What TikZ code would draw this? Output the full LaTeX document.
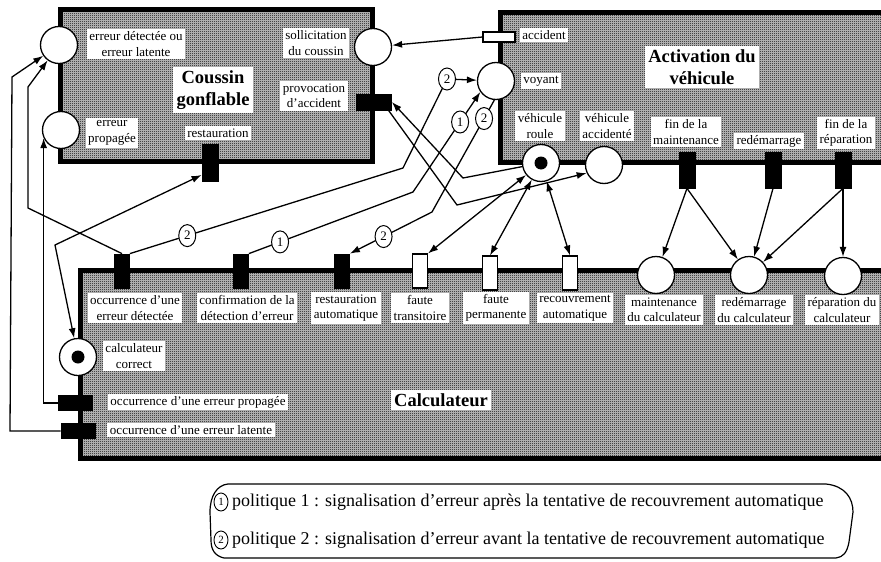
\documentclass[tikz,border=0pt]{standalone}
\usepackage{fontspec}
\setmainfont{Liberation Serif}
\usetikzlibrary{arrows.meta,shapes.geometric,patterns}

% fine checkerboard used as the halftone of the three modules
\pgfdeclarepatternformonly{halftone}{\pgfpointorigin}{\pgfqpoint{2pt}{2pt}}{\pgfqpoint{2pt}{2pt}}{%
  \pgfpathrectangle{\pgfpointorigin}{\pgfqpoint{1pt}{1pt}}%
  \pgfpathrectangle{\pgfqpoint{1pt}{1pt}}{\pgfqpoint{1pt}{1pt}}%
  \pgfusepath{fill}}

\begin{document}
\begin{tikzpicture}[x=1pt, y=-1pt,
  module/.style={draw, line width=5pt, preaction={fill=black!22}, pattern=halftone, pattern color=black},
  pl/.style={circle, draw, line width=1.3pt, fill=white, minimum size=37pt, inner sep=0pt},
  tok/.style={circle, fill=black, minimum size=13pt, inner sep=0pt},
  tb/.style={rectangle, draw, line width=0.8pt, fill=black, inner sep=0pt},
  tw/.style={rectangle, draw, line width=1.1pt, fill=white, inner sep=0pt},
  vert/.style={minimum width=15pt, minimum height=34pt},
  horz/.style={minimum width=34pt, minimum height=15pt},
  lbl/.style={fill=white, inner sep=2.5pt, align=center, font=\fontsize{13}{15.5}\selectfont},
  ttl/.style={fill=white, inner sep=3.5pt, align=center, font=\fontsize{18.5}{22}\selectfont\bfseries},
  plain/.style={line width=1.3pt},
  flow/.style={line width=1.3pt, -{Latex[length=10pt,width=7pt]}},
  biflow/.style={line width=1.3pt, {Latex[length=10pt,width=7pt]}-{Latex[length=10pt,width=7pt]}},
  pol/.style={ellipse, draw, line width=1pt, fill=white, minimum width=17pt, minimum height=22pt, inner sep=0pt, font=\fontsize{13}{13}\selectfont},
  legnum/.style={ellipse, draw, line width=0.9pt, fill=white, minimum width=14pt, minimum height=18pt, inner sep=0pt, font=\fontsize{11}{11}\selectfont},
  legtxt/.style={inner sep=0pt, anchor=west, font=\fontsize{18}{20}\selectfont},
]
\useasboundingbox (0,0) rectangle (881,562);
\clip (0,0) rectangle (881,562);

% ---- modules ----
\path[module] (60.5,9.5) rectangle (372.5,161.5);
\path[module] (500,12.5) rectangle (900,162.5);
\path[module] (80,270) rectangle (900,458);

% ---- module titles ----
\node[ttl] (ttlCoussin) at (213,90) {Coussin\\gonflable};
\node[ttl] (ttlAct) at (702,67) {Activation du\\véhicule};
\node[ttl] (ttlCalc) at (441,400) {Calculateur};

% ---- labels ----
\node[lbl] (lDet) at (136,44) {erreur détectée ou\\erreur latente};
\node[lbl] (lProp) at (112,133) {erreur\\propagée};
\node[lbl] (lRest) at (218,133) {restauration};
\node[lbl] (lSoll) at (316,43) {sollicitation\\du coussin};
\node[lbl] (lProv) at (314,96) {provocation\\d'accident};
\node[lbl] (lAcc) at (544,35) {accident};
\node[lbl] (lVoy) at (541,81) {voyant};
\node[lbl] (lRoule) at (540,126) {véhicule\\roule};
\node[lbl] (lAccid) at (607,126) {véhicule\\accidenté};
\node[lbl] (lFinMaint) at (686,132) {fin de la\\maintenance};
\node[lbl] (lRedem) at (769,141) {redémarrage};
\node[lbl] (lFinRep) at (846,133) {fin de la\\réparation};
\node[lbl] (lOccDet) at (135,308) {occurrence d'une\\erreur détectée};
\node[lbl] (lConf) at (247,308) {confirmation de la\\détection d'erreur};
\node[lbl] (lRestAuto) at (346,308) {restauration\\automatique};
\node[lbl] (lTrans) at (420,308) {faute\\transitoire};
\node[lbl] (lPerm) at (496,308) {faute\\permanente};
\node[lbl] (lRecouv) at (575,308) {recouvrement\\automatique};
\node[lbl] (lMaint) at (664,310) {maintenance\\du calculateur};
\node[lbl] (lRedemC) at (754,310) {redémarrage\\du calculateur};
\node[lbl] (lRepar) at (842,310) {réparation du\\calculateur};
\node[lbl] (lCorrect) at (134,356) {calculateur\\correct};
\node[lbl] (lOccProp) at (198,402) {occurrence d'une erreur propagée};
\node[lbl] (lOccLat) at (191,430) {occurrence d'une erreur latente};

% ---- places ----
\node[pl] (pDet) at (59,45) {};
\node[pl] (pProp) at (61,130) {};
\node[pl] (pSoll) at (373,47) {};
\node[pl] (pVoy) at (496,81) {};
\node[pl] (pRoule) at (541,163) {};
\node[tok] (kRoule) at (pRoule) {};
\node[pl] (pAcc) at (604,165) {};
\node[pl] (pMaint) at (656,275) {};
\node[pl] (pRedem) at (749,275) {};
\node[pl] (pRepar) at (843,276) {};
\node[pl] (pCorrect) at (78,357) {};
\node[tok] (kCorrect) at (pCorrect) {};

% ---- transitions ----
\node[tb, minimum width=16pt, minimum height=37pt] (tRest) at (210,163) {};
\node[tb, minimum width=35pt, minimum height=16pt] (tProv) at (374,102) {};
\node[tw, minimum width=32pt, minimum height=10pt] (tAcc) at (499,37) {};
\node[tb, minimum width=16pt, minimum height=36pt] (tFinMaint) at (687,170) {};
\node[tb, minimum width=16pt, minimum height=36pt] (tRedem) at (773,170) {};
\node[tb, minimum width=16pt, minimum height=36pt] (tFinRep) at (843,170) {};
\node[tb, vert] (tOccDet) at (122,271) {};
\node[tb, vert] (tConf) at (241,271) {};
\node[tb, vert] (tRestAuto) at (342,271) {};
\node[tw, vert] (tTrans) at (420,271) {};
\node[tw, vert] (tPerm) at (490,273) {};
\node[tw, vert] (tRecouv) at (570,273) {};
\node[tb, horz] (tOccProp) at (75,403) {};
\node[tb, horz] (tOccLat) at (78,431) {};

% ---- bend points ----
\coordinate (bLat1) at (10,431);
\coordinate (bLat2) at (12,77);
\coordinate (bDet1) at (28,208);
\coordinate (bDet2) at (28,87);
\coordinate (bRest) at (55,245);
\coordinate (bVoyA) at (403,168);
\coordinate (bVoyB) at (413,192);
\coordinate (bVoyC) at (432,212);
\coordinate (bProvD) at (463,178);
\coordinate (bProvE) at (457,205);

% ---- arcs of the airbag module ----
\draw[flow] (tOccLat.west) -- (bLat1) -- (bLat2) -- (pDet);
\draw[flow] (tOccDet.north) -- (bDet1) -- (bDet2) -- (pDet);
\draw[flow] (tOccProp.west) -| (pProp.205);
\draw[biflow] (pCorrect) -- (bRest) -- (tRest.235);
\draw[flow] (tAcc.west) -- (pSoll);

% ---- warning lamp, both signalling policies ----
\draw[plain] (tOccDet.north east) -- node[pol, pos=0.21] (n2a) {2} (bVoyA) -- (447,79) node[pol] (n2b) {2};
\draw[flow] (n2b) -- (pVoy);
\draw[flow] (tConf.north east) -- node[pol, pos=0.19] (n1a) {1} (bVoyB) -- node[pol, pos=0.7] (n1b) {1} (pVoy.215);
\draw[flow] (pVoy.265) -- node[pol, pos=0.165] (n2c) {2} (bVoyC) -- node[pol, pos=0.59] (n2d) {2} (tRestAuto.north east);

% ---- vehicle activation ----
\draw[flow] (pRoule) -- (bProvD) -- (tProv.east);
\draw[flow] (tProv.-30) -- (bProvE) -- (pAcc.205);
\draw[biflow] (pRoule) -- (tTrans.north east);
\draw[biflow] (pRoule) -- (tPerm.north);
\draw[biflow] (pRoule) -- (tRecouv.north);

% ---- maintenance and repair ----
\draw[flow] (tFinMaint.south) -- (pMaint);
\draw[flow] (tFinMaint.south) -- (pRedem);
\draw[flow] (tRedem.south) -- (pRedem);
\draw[flow] (tFinRep.south) -- (pRedem);
\draw[flow] (tFinRep.south) -- (pRepar);

% ---- legend ----
\draw[line width=1.2pt] (228,484) -- (826,484) .. controls (845,486) and (853,498) .. (853,512)
  -- (849,542) .. controls (847,553) and (843,557) .. (836,558) -- (224,558)
  .. controls (215,556) and (211,550) .. (211,540) -- (210,512)
  .. controls (210,496) and (217,485) .. (228,484) -- cycle;
\node[legnum] (g1) at (221,502) {1};
\node[legtxt] (t1) at (232,502) {politique 1 : signalisation d'erreur après la tentative de recouvrement automatique};
\node[legnum] (g2) at (221,540) {2};
\node[legtxt] (t2) at (232,540) {politique 2 : signalisation d'erreur avant la tentative de recouvrement automatique};
\end{tikzpicture}
\end{document}
